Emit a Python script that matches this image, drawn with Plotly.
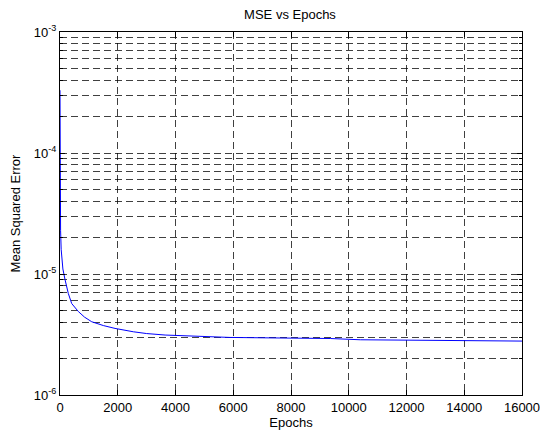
import plotly.graph_objects as go

# Data
epochs = [0, 5, 10, 20, 40, 60, 100, 173, 288, 405, 634, 850, 1099, 1500, 1906,
          2540, 3000, 3640, 4160, 4437, 5000, 5890, 7000, 8000, 9360, 10400,
          12000, 13000, 14000, 15000, 16000]
mse = [3.3e-4, 8.0e-5, 4.2e-5, 2.3e-5, 1.6e-5, 1.3e-5, 1.1e-5, 9.0e-6, 6.9e-6,
       5.7e-6, 4.9e-6, 4.4e-6, 4.03e-6, 3.75e-6, 3.55e-6, 3.33e-6, 3.22e-6,
       3.13e-6, 3.09e-6, 3.07e-6, 3.03e-6, 2.99e-6, 2.97e-6, 2.95e-6, 2.93e-6,
       2.86e-6, 2.83e-6, 2.82e-6, 2.81e-6, 2.80e-6, 2.79e-6]

x_ticks = [0, 2000, 4000, 6000, 8000, 10000, 12000, 14000, 16000]
y_ticks = [1e-6, 1e-5, 1e-4, 1e-3]
y_ticktext = ["10<sup>-6</sup>", "10<sup>-5</sup>", "10<sup>-4</sup>", "10<sup>-3</sup>"]
y_minor = [m * 10.0 ** e for e in (-6, -5, -4) for m in range(2, 10)]

FONT = "Liberation Sans, Arial, sans-serif"
GRID = "rgba(0,0,0,0.75)"
DASH = "7px,4px"
FS = 13

W, H = 540, 431

fig = go.Figure()
fig.add_trace(go.Scatter(x=epochs, y=mse, mode="lines",
                         line=dict(color="#0000ff", width=1), showlegend=False,
                         hoverinfo="skip"))

fig.update_layout(
    width=W, height=H,
    autosize=False,
    margin=dict(l=60, r=18, t=32, b=36, autoexpand=False),
    paper_bgcolor="white", plot_bgcolor="white",
    font=dict(family=FONT, size=FS, color="black"),
    title=dict(text="MSE vs Epochs", x=290 / W, xanchor="center",
               y=1 - 14 / H, yanchor="middle", yref="container",
               font=dict(family=FONT, size=FS, color="black")),
)
fig.update_xaxes(
    automargin=False, ticklabeloverflow="allow",
    range=[0, 16000], tickvals=x_ticks, ticktext=[str(v) for v in x_ticks],
    ticks="inside", ticklen=5, tickcolor="black", showline=True, linecolor="black",
    linewidth=1, mirror="allticks", showgrid=True, gridcolor=GRID, griddash=DASH,
    gridwidth=1, zeroline=False,
    title=dict(text="Epochs", standoff=3, font=dict(family=FONT, size=FS)),
    tickfont=dict(family=FONT, size=FS),
)
fig.update_yaxes(
    automargin=False,
    type="log", range=[-6, -3], tickvals=y_ticks, ticktext=y_ticktext,
    ticks="inside", ticklen=5, tickcolor="black", showline=True, linecolor="black",
    linewidth=1, mirror="allticks", showgrid=True, gridcolor=GRID, griddash=DASH,
    gridwidth=1, zeroline=False,
    minor=dict(tickvals=y_minor, ticks="inside", ticklen=3, tickcolor="black",
               showgrid=True, gridcolor=GRID, griddash=DASH, gridwidth=1),
    title=dict(text="Mean Squared Error", standoff=10, font=dict(family=FONT, size=FS)),
    tickfont=dict(family=FONT, size=FS),
)

fig.write_html(
    "out.html",
    config={"displayModeBar": False},
    post_script="document.body.style.margin='0';document.body.style.overflow='hidden';",
)
